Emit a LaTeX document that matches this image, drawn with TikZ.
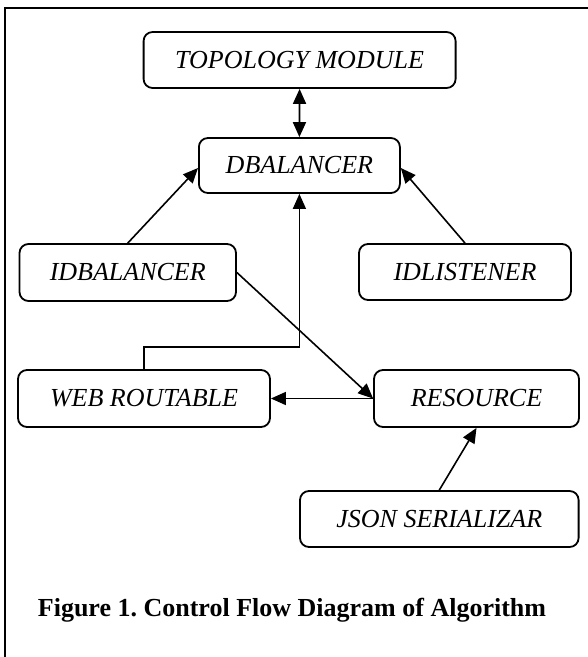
\documentclass[tikz,border=0pt]{standalone}
\usepackage{fontspec}
\setmainfont{Liberation Serif}
\usetikzlibrary{arrows.meta,calc}
\frenchspacing
\begin{document}
\begin{tikzpicture}[x=1pt,y=-1pt,
  box/.style={draw,line width=1.8pt,rounded corners=9pt,inner sep=0pt,
    font=\fontsize{26}{30}\selectfont\itshape},
  arr/.style={line width=1.6pt,-{Triangle[length=15pt,width=13pt]}},
  darr/.style={line width=1.8pt,{Triangle[length=15pt,width=13pt]}-{Triangle[length=15pt,width=13pt]}}]
\useasboundingbox (0,0) rectangle (588,657);
\draw[line width=2.2pt] (5,657) -- (5,8) -- (588,8);
\node[box,minimum width=312pt,minimum height=56pt] (topo) at (299.6,60) {TOPOLOGY MODULE};
\node[box,minimum width=201pt,minimum height=55pt] (dbal) at (299.4,165.5) {DBALANCER};
\node[box,minimum width=216.5pt,minimum height=57pt] (idbal) at (127.75,272.5) {IDBALANCER};
\node[box,minimum width=212pt,minimum height=56pt] (idlist) at (465,272) {IDLISTENER};
\node[box,minimum width=252pt,minimum height=57pt] (web) at (144,398.5) {WEB ROUTABLE};
\node[box,minimum width=205pt,minimum height=57pt] (res) at (476.5,398.5) {RESOURCE};
\node[box,minimum width=278.6pt,minimum height=56pt] (json) at (439.3,519) {JSON SERIALIZAR};
\node[font=\fontsize{26}{30}\selectfont\bfseries] (cap) at (292,610) {Figure 1. Control Flow Diagram of Algorithm};
\draw[darr] (topo.south) -- (dbal.north);
\draw[arr] (idbal.north) -- ([yshift=-2.5pt]dbal.west);
\draw[arr] (idlist.north) -- ([yshift=-2.5pt]dbal.east);
\draw[arr] (web.north) -- ++(0,-22) -| (dbal.south);
\draw[arr] (idbal.east) -- (res.west);
\draw[arr] (res.west) -- (web.east);
\draw[arr] (json.north) -- (res.south);
\end{tikzpicture}
\end{document}
